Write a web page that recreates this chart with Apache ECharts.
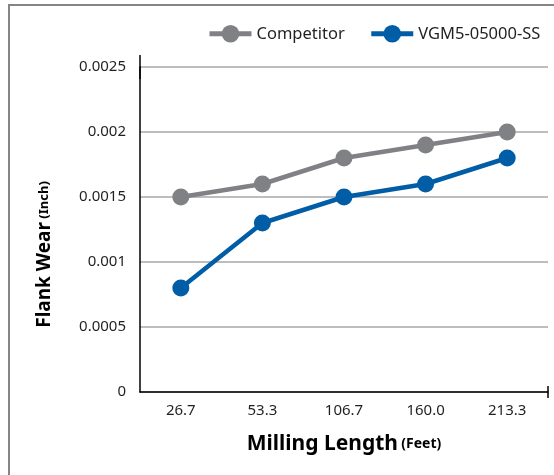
<!DOCTYPE html>
<html>
<head>
<meta charset="utf-8">
<script src="https://cdn.jsdelivr.net/npm/echarts@6/dist/echarts.min.js"></script>
<style>
  html, body { margin: 0; padding: 0; width: 554px; height: 475px; overflow: hidden; background: #fff; }
  #frame { position: absolute; left: 8px; top: 4px; width: 700px; height: 700px; border: 2px solid #858585; box-sizing: border-box; }
  #chart { position: absolute; left: 0; top: 0; width: 554px; height: 475px; }
</style>
</head>
<body>
<div id="frame"></div>
<div id="chart"></div>
<script>
const categories = ['26.7', '53.3', '106.7', '160.0', '213.3'];
const competitor = [0.0015, 0.0016, 0.0018, 0.0019, 0.002];
const vgm = [0.0008, 0.0013, 0.0015, 0.0016, 0.0018];
const seriesNames = ['Competitor', 'VGM5-05000-SS'];
const textColor = '#231f20';
const font = 'Noto Sans';

const chart = echarts.init(document.getElementById('chart'), null, { renderer: 'canvas' });
chart.setOption({
  backgroundColor: 'transparent',
  animation: false,
  legend: {
    top: 20,
    left: 202,
    itemWidth: 42,
    itemHeight: 22,
    itemGap: 24,
    lineStyle: { width: 5 },
    textStyle: { fontFamily: font, fontSize: 16.5, color: textColor },
    data: seriesNames
  },
  grid: { left: 140, right: 6, top: 67, bottom: 83 },
  xAxis: {
    type: 'category',
    data: categories,
    boundaryGap: true,
    axisTick: { show: false },
    axisLine: { lineStyle: { color: '#000', width: 1.5 }, symbol: ['none', 'rect'], symbolSize: [12, 1.5] },
    axisLabel: { fontFamily: font, fontSize: 15, color: textColor, margin: 11 },
    name: '{a|Milling Length} {b|(Feet)}',
    nameLocation: 'middle',
    nameGap: 42,
    nameTextStyle: {
      rich: {
        a: { fontFamily: font, fontSize: 21, fontWeight: 'bold', color: '#000' },
        b: { fontFamily: font, fontSize: 14, fontWeight: 'bold', color: '#000' }
      }
    }
  },
  yAxis: {
    type: 'value',
    min: 0,
    max: 0.0025,
    interval: 0.0005,
    axisTick: { show: false },
    axisLine: { show: true, lineStyle: { color: '#000', width: 1.5 }, symbol: ['none', 'rect'], symbolSize: [1.5, 24] },
    splitLine: { lineStyle: { color: '#a7a7a7', width: 1.5 } },
    axisLabel: { fontFamily: font, fontSize: 15, color: textColor, margin: 14 },
    name: '{a|Flank Wear} {b|(Inch)}',
    nameLocation: 'middle',
    nameGap: 86,
    nameTextStyle: {
      padding: [0, 50, 0, 0],
      rich: {
        a: { fontFamily: font, fontSize: 19, fontWeight: 'bold', color: '#000' },
        b: { fontFamily: font, fontSize: 13, fontWeight: 'bold', color: '#000' }
      }
    }
  },
  series: [
    {
      name: seriesNames[0],
      type: 'line',
      data: competitor,
      symbol: 'circle',
      symbolSize: 17,
      color: '#808184',
      lineStyle: { width: 4.5, color: '#808184' },
      itemStyle: { color: '#808184' }
    },
    {
      name: seriesNames[1],
      type: 'line',
      data: vgm,
      symbol: 'circle',
      symbolSize: 17,
      color: '#005da6',
      lineStyle: { width: 4.5, color: '#005da6' },
      itemStyle: { color: '#005da6' }
    }
  ]
});
</script>
</body>
</html>
